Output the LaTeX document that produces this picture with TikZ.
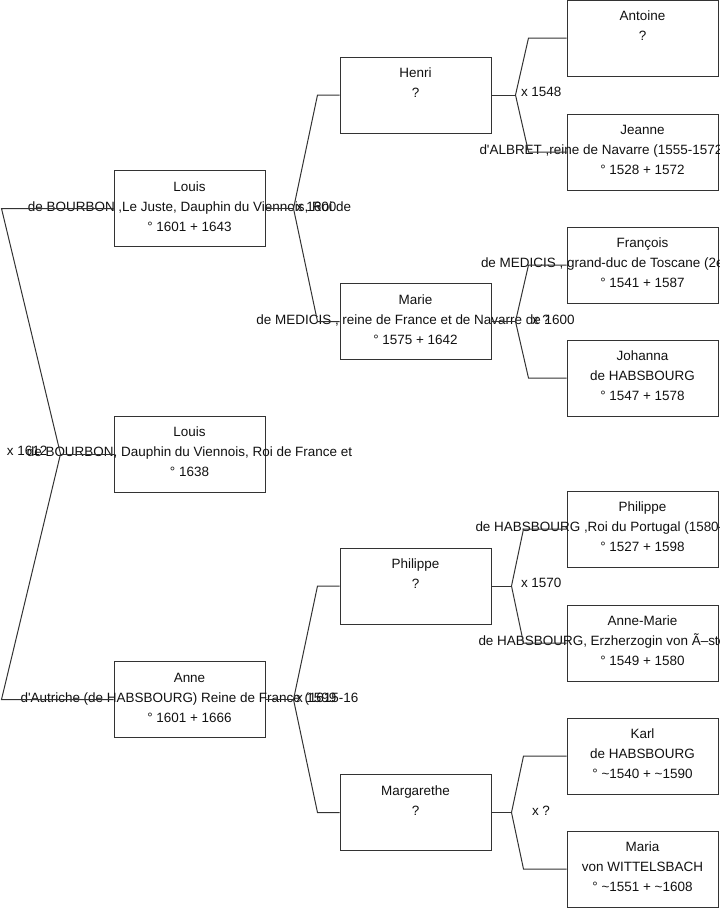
\documentclass[tikz,border=0pt]{standalone}
\usepackage{fontspec}
\setmainfont{Liberation Sans}
\usetikzlibrary{positioning, calc}
\definecolor{treeink}{HTML}{333333}
\definecolor{treetxt}{HTML}{111111}

\begin{document}
\begin{tikzpicture}[
  x=0.75pt, y=-0.75pt,
  line width=0.75pt, line join=miter,
  cell/.style = {draw=treeink, line width=0.75pt, minimum width=113.25pt,
                 minimum height=57pt, inner sep=0pt, anchor=center},
  who/.style  = {align=center, inner sep=0pt, text=treetxt, yshift=1pt,
                 font=\fontsize{10.1}{15}\selectfont},
  longln/.style = {anchor=base west, inner sep=0pt, text=treetxt,
                 font=\fontsize{10.1}{15}\selectfont},
  wed/.style  = {anchor=west, inner sep=0pt, text=treetxt,
                 font=\fontsize{10.1}{15}\selectfont},
  link/.style = {draw=treeink, line width=0.75pt}
]
\useasboundingbox (0,0) rectangle (719,908);
\clip (0,0) rectangle (719,908);

% generation 1
\node[cell, label={[who]center:{\strut Louis\\de BOURBON ,Le Juste, Dauphin du Viennois, Roi de\\° 1601 + 1643\strut}}] (louisP) at (189.5,208.5) {};
\node[cell, label={[who]center:{\strut Louis\\de BOURBON, Dauphin du Viennois, Roi de France et\\° 1638\strut}}] (louisC) at (189.5,454) {};
\node[cell, label={[who]center:{\strut Anne\\d{\textquotesingle}Autriche (de HABSBOURG) Reine de France (1615-16\\° 1601 + 1666\strut}}] (anne) at (189.5,699.5) {};

% generation 2
\node[cell, label={[who]center:{\strut Henri\\?\\\strut}}] (henri) at (415.5,95) {};
\node[cell, label={[who]center:{\strut Marie\\de MEDICIS , reine de France et de Navarre de 1600\\° 1575 + 1642\strut}}] (marie) at (415.5,321.5) {};
\node[cell, label={[who]center:{\strut Philippe\\?\\\strut}}] (philippeE) at (415.5,586) {};
\node[cell, label={[who]center:{\strut Margarethe\\?\\\strut}}] (margarethe) at (415.5,812.5) {};

% generation 3
\node[cell, label={[who]center:{\strut Antoine\\?\\\strut}}] (antoine) at (642.5,38) {};
\node[cell, label={[who]center:{\strut Jeanne\\ \\° 1528 + 1572\strut}}] (jeanne) at (642.5,152) {};
\node[cell, label={[who]center:{\strut François\\ \\° 1541 + 1587\strut}}] (francois) at (642.5,265) {};
\node[cell, label={[who]center:{\strut Johanna\\de HABSBOURG\\° 1547 + 1578\strut}}] (johanna) at (642.5,378) {};
\node[cell, label={[who]center:{\strut Philippe\\ \\° 1527 + 1598\strut}}] (philippeP) at (642.5,529) {};
\node[cell, label={[who]center:{\strut Anne-Marie\\ \\° 1549 + 1580\strut}}] (anneMarie) at (642.5,643) {};
\node[cell, label={[who]center:{\strut Karl\\de HABSBOURG\\° \textasciitilde1540 + \textasciitilde1590\strut}}] (karl) at (642.5,756) {};
\node[cell, label={[who]center:{\strut Maria\\von WITTELSBACH\\° \textasciitilde1551 + \textasciitilde1608\strut}}] (maria) at (642.5,869) {};

% lines running off the right edge
\node[longln] (jeanneD) at ($(jeanne.center)+(-163.5,2.7)$) {d{\textquotesingle}ALBRET ,reine de Navarre (1555-1572};
\node[longln] (francoisD) at ($(francois.center)+(-162,2.7)$) {de MEDICIS , grand-duc de Toscane (2e};
\node[longln] (philippePD) at ($(philippeP.center)+(-167.5,2.7)$) {de HABSBOURG ,Roi du Portugal (1580-};
\node[longln] (anneMarieD) at ($(anneMarie.center)+(-164.5,2.7)$) {de HABSBOURG, Erzherzogin von Ã–ste};

% couples
\coordinate (wL) at ($(louisC.west)+(-53,0)$);
\draw[link] (louisP.west) -- ++(-112,0) -- (wL) -- ($(anne.west)+(-112,0)$) -- (anne.west);
\draw[link] (louisC.west) -- (wL);
\node[wed] at ($(wL)+(-54,-3)$) {x 1612};

\coordinate (wA) at ($(louisP.east)+(28,0)$);
\draw[link] (henri.west) -- ++(-22,0) -- (wA) -- ($(marie.west)+(-22,0)$) -- (marie.west);
\draw[link] (louisP.east) -- (wA);
\node[wed] at ($(wA)+(2,-2)$) {x 1600};

\coordinate (wB) at ($(anne.east)+(28,0)$);
\draw[link] (philippeE.west) -- ++(-22,0) -- (wB) -- ($(margarethe.west)+(-22,0)$) -- (margarethe.west);
\draw[link] (anne.east) -- (wB);
\node[wed] at ($(wB)+(2,-2)$) {x 1599};

\coordinate (wH) at ($(henri.east)+(24,0)$);
\draw[link] (antoine.west) -- ++(-38,0) -- (wH) -- ($(jeanne.west)+(-38,0)$) -- (jeanne.west);
\draw[link] (henri.east) -- (wH);
\node[wed] at ($(wH)+(5,-3)$) {x 1548};

\coordinate (wM) at ($(marie.east)+(24,0)$);
\draw[link] (francois.west) -- ++(-38,0) -- (wM) -- ($(johanna.west)+(-38,0)$) -- (johanna.west);
\draw[link] (marie.east) -- (wM);
\node[wed] at ($(wM)+(16,-2)$) {x ?};

\coordinate (wP) at ($(philippeE.east)+(20,0)$);
\draw[link] (philippeP.west) -- ++(-43,0) -- (wP) -- ($(anneMarie.west)+(-43,0)$) -- (anneMarie.west);
\draw[link] (philippeE.east) -- (wP);
\node[wed] at ($(wP)+(9,-3)$) {x 1570};

\coordinate (wG) at ($(margarethe.east)+(20,0)$);
\draw[link] (karl.west) -- ++(-43,0) -- (wG) -- ($(maria.west)+(-43,0)$) -- (maria.west);
\draw[link] (margarethe.east) -- (wG);
\node[wed] at ($(wG)+(20,-2)$) {x ?};

\end{tikzpicture}
\end{document}
